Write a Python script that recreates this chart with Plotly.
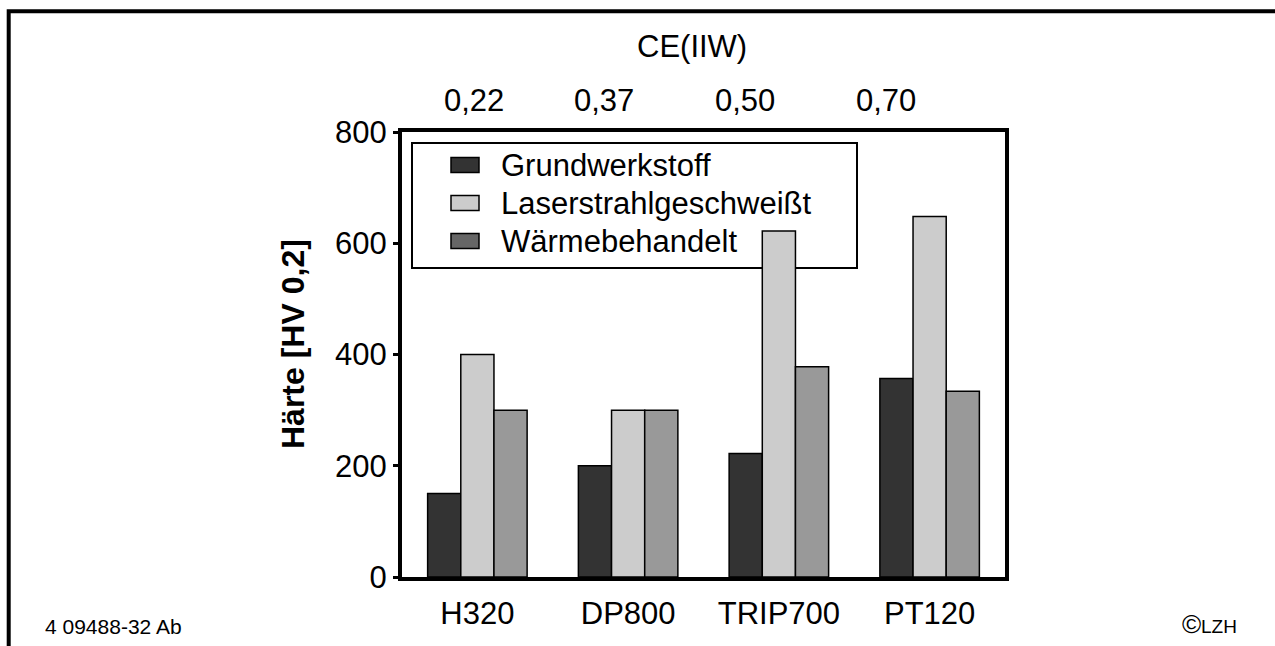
import plotly.graph_objects as go

# ---- data ----
materials = ["H320", "DP800", "TRIP700", "PT120"]
ce_labels = ["0,22", "0,37", "0,50", "0,70"]
series_names = ["Grundwerkstoff", "Laserstrahlgeschweißt", "Wärmebehandelt"]
grundwerkstoff = [150, 200, 222, 357]
laserstrahl = [400, 300, 622, 648]
waermebehandelt = [300, 300, 378, 334]
y_ticks = [0, 200, 400, 600, 800]

# ---- style ----
W, H = 1275, 646
# plot area edges in page pixel coordinates
L, R, T, B = 402, 1005, 132, 577
FONT = "Liberation Sans, Arial, Helvetica, sans-serif"
bar_colors = ["#333333", "#cccccc", "#999999"]
legend_colors = ["#333333", "#cccccc", "#666666"]


def px(x):
    return (x - L) / (R - L)


def py(y):
    return (B - y) / (B - T)


fig = go.Figure()
for name, vals, col in zip(series_names, [grundwerkstoff, laserstrahl, waermebehandelt], bar_colors):
    fig.add_trace(go.Bar(
        x=materials, y=vals, name=name,
        marker=dict(color=col, line=dict(color="black", width=1.5)),
        showlegend=False,
    ))

shapes = []
# outer frame (top + left)
shapes.append(dict(
    type="path", xref="paper", yref="paper",
    path=f"M {px(8.7)},{py(670)} L {px(8.7)},{py(11.3)} L {px(1300)},{py(11.3)}",
    line=dict(color="black", width=4),
))
# legend box (below bars)
shapes.append(dict(
    type="rect", xref="paper", yref="paper", layer="below",
    x0=px(412), x1=px(857), y0=py(268), y1=py(143),
    line=dict(color="black", width=2), fillcolor="white",
))
annotations = []
row_y = [165, 203, 241]
for name, col, yc in zip(series_names, legend_colors, row_y):
    shapes.append(dict(
        type="rect", xref="paper", yref="paper",
        x0=px(451), x1=px(479), y0=py(yc + 7.5), y1=py(yc - 7.5),
        line=dict(color="black", width=1.5), fillcolor=col,
    ))
    annotations.append(dict(
        text=name, xref="paper", yref="paper", x=px(499), y=py(yc),
        xanchor="left", yanchor="middle", showarrow=False,
        font=dict(family=FONT, size=31, color="black"),
    ))

# top CE labels
ce_x = [474, 604, 745, 886]
for lab, xc in zip(ce_labels, ce_x):
    annotations.append(dict(
        text=lab, xref="paper", yref="paper", x=px(xc), y=py(101),
        xanchor="center", yanchor="middle", showarrow=False,
        font=dict(family=FONT, size=31, color="black"),
    ))
annotations.append(dict(
    text="CE(IIW)", xref="paper", yref="paper", x=px(692), y=py(47),
    xanchor="center", yanchor="middle", showarrow=False,
    font=dict(family=FONT, size=31, color="black"),
))
# y axis title
annotations.append(dict(
    text="<b>Härte [HV 0,2]</b>", xref="paper", yref="paper", x=px(293), y=py(344),
    xanchor="center", yanchor="middle", showarrow=False, textangle=-90,
    font=dict(family=FONT, size=32, color="black"),
))
# footer texts
annotations.append(dict(
    text="4 09488-32 Ab", xref="paper", yref="paper", x=px(43), y=py(626),
    xanchor="left", yanchor="middle", showarrow=False,
    font=dict(family=FONT, size=21, color="black"),
))
annotations.append(dict(
    text="©", xref="paper", yref="paper", x=px(1180), y=py(624),
    xanchor="left", yanchor="middle", showarrow=False,
    font=dict(family=FONT, size=26, color="black"),
))
annotations.append(dict(
    text="LZH", xref="paper", yref="paper", x=px(1199), y=py(626),
    xanchor="left", yanchor="middle", showarrow=False,
    font=dict(family=FONT, size=19, color="black"),
))

fig.update_layout(
    width=W, height=H,
    margin=dict(l=L, r=W - R, t=T, b=H - B, pad=0),
    paper_bgcolor="white", plot_bgcolor="white",
    barmode="group", bargap=0.34, bargroupgap=0,
    font=dict(family=FONT, size=31, color="black"),
    shapes=shapes, annotations=annotations,
    showlegend=False,
)
fig.update_xaxes(
    showline=True, linecolor="black", linewidth=4, mirror=True,
    ticks="", showgrid=False, zeroline=False,
    tickfont=dict(family=FONT, size=31, color="black"),
    ticklabelstandoff=6,
)
fig.update_yaxes(
    range=[0, 800], tickvals=y_ticks,
    showline=True, linecolor="black", linewidth=4, mirror=True,
    ticks="outside", ticklen=5, tickwidth=3, tickcolor="black",
    showgrid=False, zeroline=False,
    tickfont=dict(family=FONT, size=31, color="black"),
)

fig.write_html(
    "out.html",
    config={"displayModeBar": False},
    post_script="document.body.style.margin='0';document.body.style.overflow='hidden';",
)
